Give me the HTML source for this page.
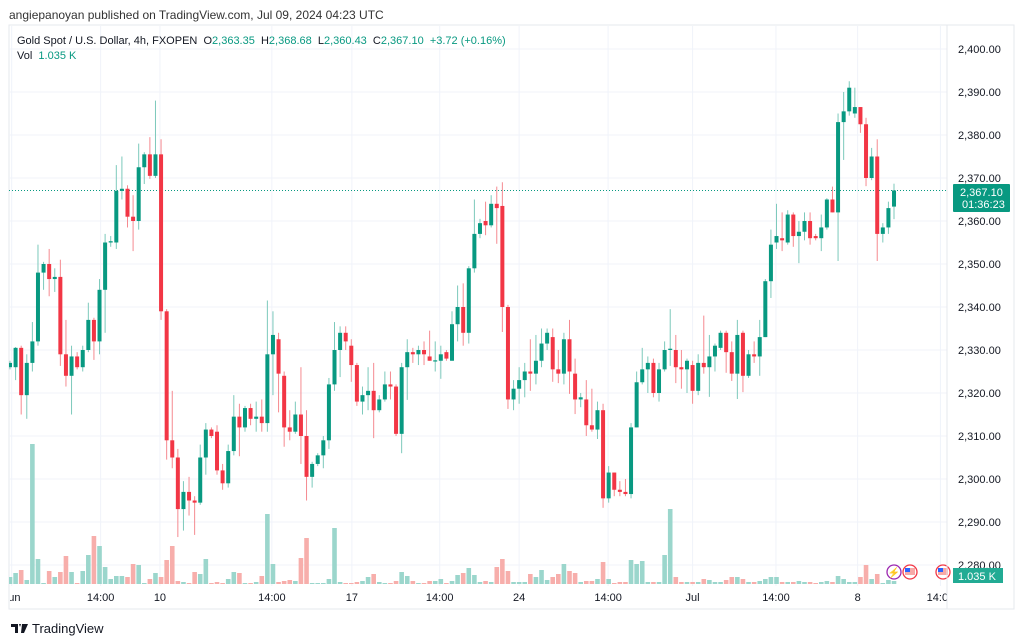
<!DOCTYPE html>
<html><head><meta charset="utf-8">
<style>
html,body{margin:0;padding:0;background:#fff;width:1024px;height:643px;overflow:hidden;font-family:"Liberation Sans",sans-serif;}
svg text{font-family:"Liberation Sans",sans-serif;}
</style></head>
<body>
<svg id="chart" width="1024" height="643" xmlns="http://www.w3.org/2000/svg">
<text x="9" y="19" font-size="12" fill="#333">angiepanoyan published on TradingView.com, Jul 09, 2024 04:23 UTC</text>
<rect x="9" y="25" width="1005" height="584" fill="none" stroke="#e6e8ee"/>
<g id="grid"></g>
<g id="vols"></g>
<g id="candles"></g>
<g id="axis"></g>
<g id="taxis"></g>
<text x="17" y="44" font-size="11" fill="#131722" style="white-space:pre" xml:space="preserve">Gold Spot / U.S. Dollar, 4h, FXOPEN  O<tspan fill="#089981">2,363.35</tspan>  H<tspan fill="#089981">2,368.68</tspan>  L<tspan fill="#089981">2,360.43</tspan>  C<tspan fill="#089981">2,367.10</tspan>  <tspan fill="#089981">+3.72 (+0.16%)</tspan></text>
<text x="17" y="59" font-size="11" fill="#131722" style="white-space:pre" xml:space="preserve">Vol  <tspan fill="#089981">1.035 K</tspan></text>
<g>
<circle cx="894" cy="572" r="7" fill="#fff" stroke="#9c27b0" stroke-width="1.3"/>
<text x="894" y="576" font-size="10" fill="#9c27b0" text-anchor="middle">⚡</text>
<circle cx="910" cy="572" r="7" fill="#fff" stroke="#f23645" stroke-width="1.3"/>
<rect x="905" y="568" width="10" height="7" fill="#f7a9a7"/><rect x="905" y="568" width="5" height="4" fill="#2962ff"/>
<circle cx="943" cy="572" r="7" fill="#fff" stroke="#f23645" stroke-width="1.3"/>
<rect x="938" y="568" width="10" height="7" fill="#f7a9a7"/><rect x="938" y="568" width="5" height="4" fill="#2962ff"/>
</g>
<g>
<path d="M11 624h7v9h-3v-6h-4z M19 624h2l-1 3z M22 624h6l-4 9h-3z" fill="#131722"/>
<text x="32" y="633" font-size="13" fill="#131722">TradingView</text>
</g>
</svg>
<script>
const categories = Array.from({length:159},(_,i)=>i);
const opens=[2326,2326,2330.5,2319.5,2327,2332,2348,2350,2346.5,2347,2329,2324,2328.5,2326,2330,2337,2332,2344,2355,2355,2367,2367.5,2361,2360,2372.5,2375.5,2370.5,2375.5,2339,2309,2305,2293,2297,2295,2294.5,2305,2311.5,2311,2302,2299,2306.5,2314.5,2312,2316.5,2314,2314.5,2313,2329,2332.5,2324,2312,2311,2315,2310,2300.5,2303.5,2305.5,2309,2322,2330,2334,2331,2326.5,2318,2319.5,2320.5,2316,2318.5,2322,2321.5,2310.5,2326,2329.5,2329,2330,2328.5,2327.5,2327.5,2329.5,2327.5,2336,2340,2334,2349,2357,2360,2359,2364,2363.5,2340,2318.5,2321,2323,2325,2324.5,2327.5,2331.5,2333,2325.5,2324.5,2332.5,2324.5,2318.5,2318.5,2312.5,2311.5,2316,2295.5,2301.5,2297.5,2297,2296.5,2312,2322.5,2325.5,2327,2320,2325.5,2330,2330,2326,2325.5,2326.5,2320.5,2327,2326,2328.5,2330.5,2334,2329.5,2324.5,2334,2324,2329,2328.5,2333,2346,2355,2356,2355,2361.5,2356.5,2357.5,2360,2356.5,2356,2358.5,2365,2362,2383,2385.5,2385,2386.5,2382.5,2370,2375,2357,2358.5,2363.35];
const highs=[2327.5,2330.7,2331,2329,2336.5,2354.5,2350.5,2353.5,2349,2351,2337,2331,2329.5,2331,2341,2337.5,2346.5,2357,2356.5,2373,2375,2368.3,2366,2378,2376,2379.5,2388,2379,2339.5,2320.5,2307,2299.5,2300.5,2296,2308,2313,2312,2312.5,2303.5,2308,2319.5,2317.5,2317,2317.5,2318,2318.5,2341.5,2339,2334,2325,2316,2318,2326,2316,2304,2306,2310,2323.5,2336.5,2335.5,2335.5,2332.5,2327,2321.5,2326,2327,2319.5,2325,2325,2322,2327,2332.5,2330.5,2331,2332,2334.5,2332,2331,2330,2339,2345,2345.5,2349.5,2365,2360.5,2364.5,2366,2368,2369,2340.5,2323,2326,2327,2332.5,2333.5,2335,2335,2335,2330,2334,2337,2328,2320,2323,2321,2318,2317.5,2303,2301.5,2299.5,2300,2313,2325,2330.5,2328.5,2328,2327,2332,2339.5,2333.5,2330,2328,2327.5,2329,2338,2333.5,2331.5,2334.5,2334.5,2332,2337,2334.5,2330,2332,2337,2346.5,2358,2364,2362,2362.5,2362,2360,2362,2362,2357,2361.5,2365.3,2368,2385,2390,2392.5,2391,2386.5,2384,2377,2379,2359.5,2364.5,2368.68];
const lows=[2325.5,2323,2315,2314,2325,2331,2344,2342.5,2343.5,2326.3,2321.5,2315,2325.5,2325,2329.5,2327.7,2329,2334,2354,2353.5,2365,2358.5,2353,2358,2368.6,2369.8,2370,2337,2304.5,2302.5,2286.5,2288,2291.5,2287,2294,2301,2309.5,2301,2297.5,2298,2305.5,2305.3,2311,2312.5,2311,2311,2311,2319.5,2315.5,2307.5,2309,2310.5,2303.5,2295,2298,2303,2302.5,2307,2320.5,2323.7,2330,2322.6,2317,2315,2316,2309.5,2315.5,2318,2318.5,2310,2306,2318.4,2327,2326.5,2326.5,2327.5,2325,2323.3,2327.5,2327.5,2332,2331,2331.5,2348,2356,2356.7,2358.5,2354.7,2334.2,2316.3,2316,2317.5,2319,2320.5,2322,2326,2330,2322.6,2322.3,2322,2319.8,2315.1,2316.7,2310,2311,2309.3,2293.3,2294.5,2296,2296,2296,2295.5,2312,2322,2320,2319,2318,2325,2326.3,2322.3,2321,2320,2317.5,2319.5,2324.5,2319.1,2325,2330,2324.7,2322.8,2318.6,2320.2,2323.5,2327,2324,2333,2342.1,2353.5,2353,2354.5,2354,2350.2,2355.5,2354.5,2355.5,2353,2358,2362,2350.7,2374.2,2384.5,2384,2380.5,2368.1,2369.5,2350.7,2355,2357,2360.43];
const closes=[2327,2330.5,2319.5,2327,2332,2348,2350,2346.5,2347,2329,2324,2328.5,2326,2330,2337,2332,2344,2355,2355.3,2367,2367.5,2361,2360,2372.5,2375.5,2370.5,2375.5,2339,2309,2305,2293,2297,2295,2294.5,2305,2311.5,2310,2302,2299,2306.5,2314.5,2312,2316.5,2314,2314.5,2313,2329,2333.5,2324.5,2312,2311,2315,2310,2300.5,2303.5,2305.5,2309,2322,2330,2334,2332,2326.5,2318,2319.5,2320.5,2316,2318.5,2322,2321.5,2310.5,2326,2329.5,2329,2330,2329,2327.5,2327.6,2329,2328,2336,2340,2334,2349,2357,2359.5,2359,2364,2363,2340,2318.5,2321,2323,2325,2324.5,2327.5,2331.5,2334,2325.5,2324.5,2332.5,2325,2318.5,2319,2312.5,2311.5,2316,2295.5,2301.5,2297.5,2297,2296.5,2312,2322.5,2325.5,2327,2320,2325.5,2330,2330.3,2326,2325.5,2327.5,2320.5,2327,2326,2328.5,2331,2334,2329.5,2324.5,2333.5,2324,2329,2328.5,2333,2346,2354.5,2356.5,2355.5,2361.5,2356.5,2357.5,2360,2356,2356,2358.5,2365,2362,2383,2385.5,2391,2386.5,2382.5,2370,2375,2357,2358.5,2363,2367.1];
const volumes=[7,11,14,4,140,25,1,13,7,12,28,12,1,13,29,48,38,17,5,8,8,7,20,19,1,5,11,7,24,38,3,2,1,12,10,25,1,2,1,5,12,11,1,1,2,8,70,20,2,3,4,3,26,46,1,1,1,5,56,2,1,1,2,3,7,10,2,1,1,3,12,8,3,1,1,3,3,5,1,3,9,11,16,9,2,3,2,17,25,13,2,2,2,10,7,14,4,7,10,20,13,11,2,3,3,5,22,5,1,2,2,24,20,23,2,2,2,29,75,7,2,2,2,2,5,4,2,2,4,7,7,5,2,2,3,5,7,7,2,2,2,3,2,2,1,2,3,2,8,5,2,2,7,19,5,10,1,4,3];
const priceTicks=[2280,2290,2300,2310,2320,2330,2340,2350,2360,2370,2380,2390,2400];
const timeLabels=["Jun","14:00","10","14:00","17","14:00","24","14:00","Jul","14:00","8","14:00"];
const timeLabelIdx=[0.3,16.2,26.8,46.8,61.1,76.8,91,106.9,122,136.9,151.5,166.3];

const NS="http://www.w3.org/2000/svg";
const PL=9, PR=947, PT=26, PB=586;
function xS(i){return 10+i*5.595;}
function yS(p){return 49+(2400-p)*4.3;}
function yV(v){return 584-v*1.0;}
function mk(tag,attrs,parent){const e=document.createElementNS(NS,tag);for(const k in attrs)e.setAttribute(k,attrs[k]);parent.appendChild(e);return e;}
const svg=document.getElementById('chart');
const defs=mk('defs',{},svg);
const cp=mk('clipPath',{id:'plotclip'},defs);
mk('rect',{x:PL,y:PT,width:PR-PL,height:PB-PT},cp);
const grid=document.getElementById('grid');
const vols=document.getElementById('vols');
const candles=document.getElementById('candles');
const axis=document.getElementById('axis');
const taxis=document.getElementById('taxis');
vols.setAttribute('clip-path','url(#plotclip)');
candles.setAttribute('clip-path','url(#plotclip)');
grid.setAttribute('clip-path','url(#plotclip)');
mk('line',{x1:PR,y1:25,x2:PR,y2:609,stroke:'#e6e8ee'},svg);

priceTicks.forEach(p=>{
  const y=yS(p);
  const gl=mk('line',{x1:PL,y1:y,x2:PR,y2:y,stroke:'#f0f3fa'},grid);
  
  
  if(y>PT+15&&y<PB){
    const t=mk('text',{x:958,y:y+4,'font-size':11,fill:'#131722'},axis);
    t.textContent=p.toLocaleString('en-US',{minimumFractionDigits:2});
    
    
  }
});
timeLabels.forEach((l,k)=>{
  const x=xS(timeLabelIdx[k]);
  const gl=mk('line',{x1:x,y1:PT,x2:x,y2:PB,stroke:'#f0f3fa'},grid);
  
  
});
const tclip=mk('clipPath',{id:'tclip'},defs);
mk('rect',{x:10,y:586,width:937,height:22},tclip);
taxis.setAttribute('clip-path','url(#tclip)');
timeLabels.forEach((l,k)=>{
  const x=xS(timeLabelIdx[k]);
  const t=mk('text',{x:x,y:601,'font-size':11,fill:'#131722','text-anchor':'middle'},taxis);
  t.textContent=l;
  
  
});

categories.forEach(i=>{
  const x=xS(i);
  const up=closes[i]>=opens[i];
  const vr=mk('rect',{x:x-2.3,y:yV(volumes[i]),width:4.6,height:584-yV(volumes[i]),fill:up?'#9bd6cc':'#f7aeab'},vols);
  
  
});
mk('line',{x1:PL,y1:yS(2367.1),x2:PR,y2:yS(2367.1),stroke:'#089981','stroke-dasharray':'1,2','stroke-width':1},candles);
categories.forEach(i=>{
  const x=xS(i);
  const up=closes[i]>=opens[i];
  const col=up?'#089981':'#f23645';
  const g=mk('g',{},candles);
  
  
  mk('line',{x1:x,y1:yS(highs[i]),x2:x,y2:yS(lows[i]),stroke:up?'#7cc9bb':'#f58a90','stroke-width':1},g);
  const top=yS(Math.max(opens[i],closes[i])), bot=yS(Math.min(opens[i],closes[i]));
  mk('rect',{x:x-2,y:top,width:4,height:Math.max(1.2,bot-top),fill:col},g);
});
const lp=mk('g',{},svg);


mk('rect',{x:953,y:184,width:57,height:28,fill:'#089981',rx:1},lp);
const t1=mk('text',{x:960,y:196,'font-size':11,fill:'#fff'},lp);t1.textContent='2,367.10';
const t2=mk('text',{x:962,y:208,'font-size':11,fill:'#fff'},lp);t2.textContent='01:36:23';
const vl=mk('g',{},svg);


mk('rect',{x:953,y:568,width:50,height:15,fill:'#22ab94'},vl);
const t3=mk('text',{x:958,y:580,'font-size':11,fill:'#fff'},vl);t3.textContent='1.035 K';
</script>
</body></html>
